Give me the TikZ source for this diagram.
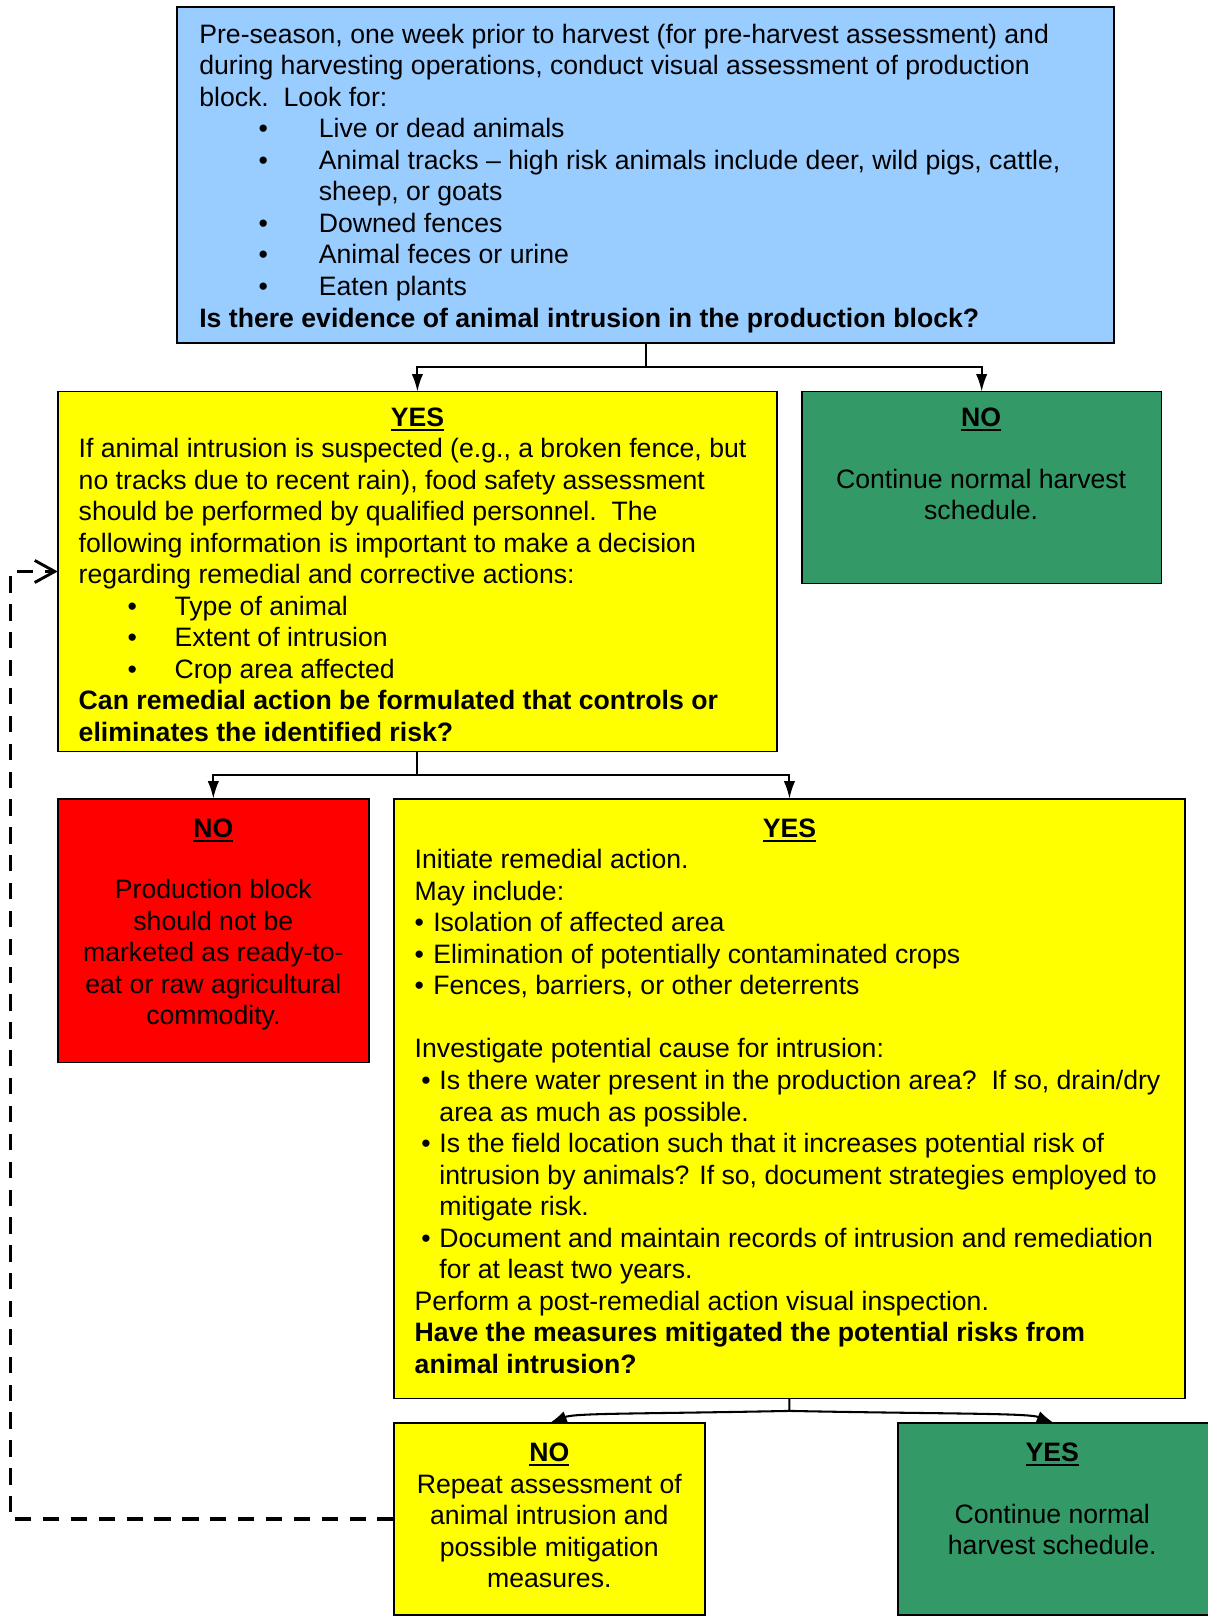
\documentclass[tikz,border=0pt]{standalone}
\usepackage{fontspec}
\setmainfont{Liberation Sans}
\usetikzlibrary{arrows.meta}
\definecolor{boxblue}{HTML}{99CCFF}
\definecolor{boxyellow}{HTML}{FFFF00}
\definecolor{boxgreen}{HTML}{339966}
\definecolor{boxred}{HTML}{FF0000}
\newcommand\blt[2]{\hspace*{#1}\makebox[0pt][l]{\textbullet}\hspace*{\dimexpr #2-#1\relax}}
\newcommand\hdr[1]{\setbox0\hbox{\bfseries #1}\rlap{\rule[-2.2pt]{\wd0}{1.1pt}}\box0}
\begin{document}
\begin{tikzpicture}[x=0.5pt,y=-0.5pt,
  box/.style={draw=black, line width=0.8pt, anchor=north west, inner sep=0pt, outer sep=0pt},
  txt/.style={inner sep=0pt, font=\fontsize{12.92}{15.3}\selectfont},
  hd/.style={txt, anchor=base},
  conn/.style={line width=1pt, -{Latex[length=8.5pt,width=5.5pt]}},
  dashconn/.style={line width=1.6pt, dash pattern=on 7.9pt off 5.62pt, -{Straight Barb[length=9.7pt,width=10.7pt,line width=1.4pt]}}]
\useasboundingbox (0,0) rectangle (1172,1568);
% boxes
\node[box, fill=boxblue, minimum width=454.5pt, minimum height=163pt] (top) at (172,7) {};
\node[box, fill=boxyellow, minimum width=349pt, minimum height=174.5pt] (yes1) at (56,380) {};
\node[box, fill=boxgreen, minimum width=174.5pt, minimum height=93pt] (no1) at (778,380) {};
\node[box, fill=boxred, minimum width=151pt, minimum height=128pt] (no2) at (56,775) {};
\node[box, fill=boxyellow, minimum width=384pt, minimum height=291pt] (yes2) at (382,775) {};
\node[box, fill=boxyellow, minimum width=151pt, minimum height=93pt] (no3) at (382,1381) {};
\node[box, fill=boxgreen, minimum width=152pt, minimum height=93pt] (yes3) at (871,1381) {};
% connectors
\path (top.south) ++(0,23) coordinate (j1);
\draw[conn] (top.south) -- (j1) -| (yes1.north);
\draw[conn] (j1) -| (no1.north);
\path (yes1.south) ++(0,23) coordinate (j2);
\draw[conn] (yes1.south) -- (j2) -| (no2.north);
\draw[conn] (j2) -| (yes2.north);
\path (yes2.south) ++(0,12) coordinate (j3);
\draw[conn] (yes2.south) -- (j3) .. controls +(-150,3) and +(25,-10) .. (no3.north);
\draw[conn] (j3) .. controls +(150,3) and +(-25,-10) .. (yes3.north);
\coordinate (dl) at (10,0);
\draw[dashconn] (no3.west) -- (no3.west -| dl) |- (yes1.west);
% texts
\node[txt, anchor=north west, align=left] (top-t) at (193,20.1) {\strut Pre-season, one week prior to harvest (for pre-harvest assessment) and\\
during harvesting operations, conduct visual assessment of production\\
block.\ \ Look for:\\
\blt{28.75pt}{58pt}Live or dead animals\\
\blt{28.75pt}{58pt}Animal tracks – high risk animals include deer, wild pigs, cattle,\\
\hspace*{58pt}sheep, or goats\\
\blt{28.75pt}{58pt}Downed fences\\
\blt{28.75pt}{58pt}Animal feces or urine\\
\blt{28.75pt}{58pt}Eaten plants\\
\textbf{Is there evidence of animal intrusion in the production block?}};
\node[hd] (yes1-h) at (405,414) {\hdr{YES}};
\node[txt, anchor=north west, align=left] (yes1-t) at (76,422.1) {\strut If animal intrusion is suspected (e.g., a broken fence, but\\
no tracks due to recent rain), food safety assessment\\
should be performed by qualified personnel.\ \ The\\
following information is important to make a decision\\
regarding remedial and corrective actions:\\
\blt{23.75pt}{46.5pt}Type of animal\\
\blt{23.75pt}{46.5pt}Extent of intrusion\\
\blt{23.75pt}{46.5pt}Crop area affected\\
\textbf{Can remedial action be formulated that controls or}\\
\textbf{eliminates the identified risk?}};
\node[hd] (no1-h) at (952,414) {\hdr{NO}};
\node[txt, anchor=north, align=center] (no1-t) at (952,452.1) {\strut Continue normal harvest\\schedule.};
\node[hd] (no2-h) at (207,813) {\hdr{NO}};
\node[txt, anchor=north, align=center] (no2-t) at (207,850.1) {\strut Production block\\should not be\\marketed as ready-to-\\eat or raw agricultural\\commodity.};
\node[hd] (yes2-h) at (766,813) {\hdr{YES}};
\node[txt, anchor=north west, align=left] (yes2-t) at (402,821.1) {\strut Initiate remedial action.\\
May include:\\
\blt{0pt}{9pt}Isolation of affected area\\
\blt{0pt}{9pt}Elimination of potentially contaminated crops\\
\blt{0pt}{9pt}Fences, barriers, or other deterrents\\[15.3pt]
Investigate potential cause for intrusion:\\
\blt{3.25pt}{12pt}Is there water present in the production area?\ \ If so, drain/dry\\
\hspace*{12pt}area as much as possible.\\
\blt{3.25pt}{12pt}Is the field location such that it increases potential risk of\\
\hspace*{12pt}intrusion by animals? If so, document strategies employed to\\
\hspace*{12pt}mitigate risk.\\
\blt{3.25pt}{12pt}Document and maintain records of intrusion and remediation\\
\hspace*{12pt}for at least two years.\\
Perform a post-remedial action visual inspection.\\
\textbf{Have the measures mitigated the potential risks from}\\
\textbf{animal intrusion?}};
\node[hd] (no3-h) at (533,1418) {\hdr{NO}};
\node[txt, anchor=north, align=center] (no3-t) at (533,1427.1) {\strut Repeat assessment of\\animal intrusion and\\possible mitigation\\measures.};
\node[hd] (yes3-h) at (1021,1418) {\hdr{YES}};
\node[txt, anchor=north, align=center] (yes3-t) at (1021,1456.1) {\strut Continue normal\\harvest schedule.};
\end{tikzpicture}
\end{document}
